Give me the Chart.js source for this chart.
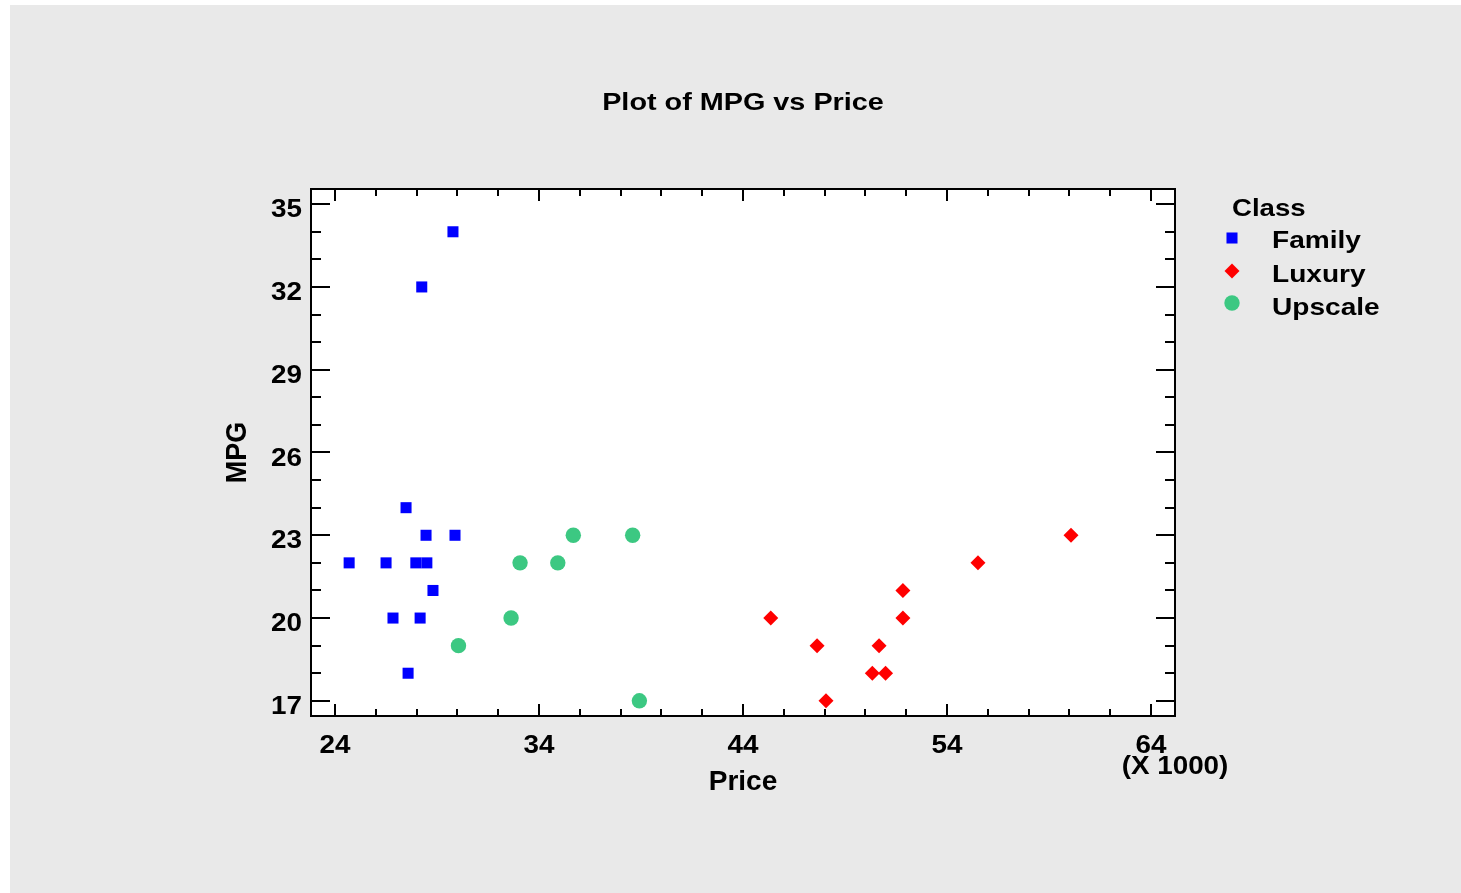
<!DOCTYPE html>
<html lang="en">
<head>
<meta charset="utf-8">
<title>Plot of MPG vs Price</title>
<script src="https://cdn.jsdelivr.net/npm/chart.js@4.4.0/dist/chart.umd.min.js"></script>
<style>
    html, body { margin: 0; padding: 0; background: #ffffff; }
    canvas { display: block; }
</style>
</head>
<body>
<canvas id="mpgChart" width="1461" height="893"></canvas>
<script>
// Price is in thousands of dollars
const familyPrice = [27.48, 28.46, 29.88, 24.69, 26.5, 27.96, 28.5, 28.8, 26.84, 28.17, 27.58, 29.78, 28.25];
const familyMpg   = [24, 23, 23, 22, 22, 22, 22, 21, 20, 20, 18, 34, 32];

const luxuryPrice = [45.36, 47.63, 48.07, 50.34, 50.99, 50.67, 51.84, 51.84, 55.52, 60.08];
const luxuryMpg   = [20, 19, 17, 18, 18, 19, 20, 21, 22, 23];

const upscalePrice = [35.68, 38.59, 33.07, 34.92, 32.63, 30.05, 38.92];
const upscaleMpg   = [23, 23, 22, 22, 20, 19, 17];

const classNames = ['Family', 'Luxury', 'Upscale'];
const xTicks = [24, 34, 44, 54, 64];
const yTicks = [17, 20, 23, 26, 29, 32, 35];

const FONT = '"Liberation Sans", Arial, Helvetica, sans-serif';

// x/y arrays -> point objects
function toPoints(xs, ys) {
    return xs.map((x, i) => ({ x: x, y: ys[i] }));
}

// bold text, optionally stretched along the reading direction
function drawText(ctx, text, x, y, size, opts) {
    const o = Object.assign({ align: 'left', sx: 1, rotate: false }, opts);
    ctx.save();
    ctx.font = 'bold ' + size + 'px ' + FONT;
    ctx.fillStyle = '#000000';
    ctx.textAlign = o.align;
    ctx.textBaseline = 'alphabetic';
    ctx.translate(x, y);
    if (o.rotate) {
        ctx.rotate(-Math.PI / 2);
        ctx.scale(1, o.sy || 1);
    } else {
        ctx.scale(o.sx, 1);
    }
    ctx.fillText(text, 0, 0);
    ctx.restore();
}

// legend marker, same shapes as the datasets
function drawMarker(ctx, style, color, r, x, y) {
    ctx.save();
    ctx.fillStyle = color;
    ctx.beginPath();
    if (style === 'rect') {
        const s = r * Math.SQRT1_2;
        ctx.rect(x - s, y - s, s * 2, s * 2);
    } else if (style === 'rectRot') {
        ctx.moveTo(x, y - r);
        ctx.lineTo(x + r, y);
        ctx.lineTo(x, y + r);
        ctx.lineTo(x - r, y);
        ctx.closePath();
    } else {
        ctx.arc(x, y, r, 0, Math.PI * 2);
    }
    ctx.fill();
    ctx.restore();
}

// panel background, frame, inward ticks, labels and legend
const framePlugin = {
    id: 'framePlugin',
    beforeDraw: function (chart) {
        const ctx = chart.ctx;
        const a = chart.chartArea;
        ctx.save();
        ctx.fillStyle = '#ffffff';
        ctx.fillRect(0, 0, chart.width, chart.height);
        ctx.fillStyle = '#e9e9e9';
        ctx.fillRect(10, 5, chart.width - 10, chart.height - 5);
        ctx.fillStyle = '#ffffff';
        ctx.fillRect(a.left, a.top, a.right - a.left, a.bottom - a.top);
        ctx.restore();
    },
    afterDraw: function (chart) {
        const ctx = chart.ctx;
        const a = chart.chartArea;
        const xs = chart.scales.x;
        const ys = chart.scales.y;

        ctx.save();
        ctx.strokeStyle = '#000000';
        ctx.lineWidth = 2;

        // x ticks: major every 10, minor every 2
        for (let v = Math.ceil(xs.min / 2) * 2; v <= xs.max; v += 2) {
            const px = Math.round(xs.getPixelForValue(v));
            const len = xTicks.includes(v) ? 12 : 7;
            ctx.beginPath();
            ctx.moveTo(px, a.bottom);
            ctx.lineTo(px, a.bottom - len);
            ctx.moveTo(px, a.top);
            ctx.lineTo(px, a.top + len);
            ctx.stroke();
        }

        // y ticks: major every 3, minor every 1
        for (let v = Math.ceil(ys.min); v <= ys.max; v += 1) {
            const py = Math.round(ys.getPixelForValue(v));
            const len = yTicks.includes(v) ? 19 : 10;
            ctx.beginPath();
            ctx.moveTo(a.left, py);
            ctx.lineTo(a.left + len, py);
            ctx.moveTo(a.right, py);
            ctx.lineTo(a.right - len, py);
            ctx.stroke();
        }

        ctx.strokeRect(a.left, a.top, a.right - a.left, a.bottom - a.top);
        ctx.restore();

        // tick labels
        xTicks.forEach(function (v) {
            drawText(ctx, String(v), xs.getPixelForValue(v), 753, 26, { align: 'center', sx: 1.07 });
        });
        yTicks.forEach(function (v) {
            drawText(ctx, String(v), 302, ys.getPixelForValue(v) + 13, 26, { align: 'right', sx: 1.07 });
        });
        drawText(ctx, '(X 1000)', a.right, 774, 26, { align: 'center', sx: 1.07 });

        // titles
        const cx = (a.left + a.right) / 2;
        drawText(ctx, 'Plot of MPG vs Price', cx, 110, 24, { align: 'center', sx: 1.2 });
        drawText(ctx, 'Price', cx, 790, 28, { align: 'center' });
        drawText(ctx, 'MPG', 246, (a.top + a.bottom) / 2, 27, { align: 'center', rotate: true, sy: 1.1 });

        // legend
        drawText(ctx, 'Class', 1232, 216, 24, { sx: 1.15 });
        const rows = [238, 271, 303];
        const baselines = [248, 282, 315];
        chart.data.datasets.forEach(function (ds, i) {
            drawMarker(ctx, ds.pointStyle, ds.backgroundColor, ds.pointRadius, 1232, rows[i]);
            drawText(ctx, ds.label, 1272, baselines[i], 24, { sx: 1.17 });
        });
    }
};

const MpgChart = {
    init: function () {
        const canvas = document.getElementById('mpgChart');

        new Chart(canvas, {
            type: 'scatter',
            data: {
                datasets: [
                    {
                        label: classNames[0],
                        data: toPoints(familyPrice, familyMpg),
                        pointStyle: 'rect',
                        pointRadius: 7.8,
                        backgroundColor: '#0000ff',
                        borderWidth: 0
                    },
                    {
                        label: classNames[1],
                        data: toPoints(luxuryPrice, luxuryMpg),
                        pointStyle: 'rectRot',
                        pointRadius: 7.5,
                        backgroundColor: '#ff0000',
                        borderWidth: 0
                    },
                    {
                        label: classNames[2],
                        data: toPoints(upscalePrice, upscaleMpg),
                        pointStyle: 'circle',
                        pointRadius: 7.7,
                        backgroundColor: '#3cc882',
                        borderWidth: 0
                    }
                ]
            },
            options: {
                responsive: false,
                animation: false,
                events: [],
                layout: {
                    padding: { left: 311, top: 189, right: 286, bottom: 177 }
                },
                scales: {
                    x: { type: 'linear', min: 22.82, max: 65.18, display: false },
                    y: { type: 'linear', min: 16.45, max: 35.55, display: false }
                },
                plugins: {
                    legend: { display: false },
                    tooltip: { enabled: false }
                }
            },
            plugins: [framePlugin]
        });
    }
};

MpgChart.init();
</script>
</body>
</html>
